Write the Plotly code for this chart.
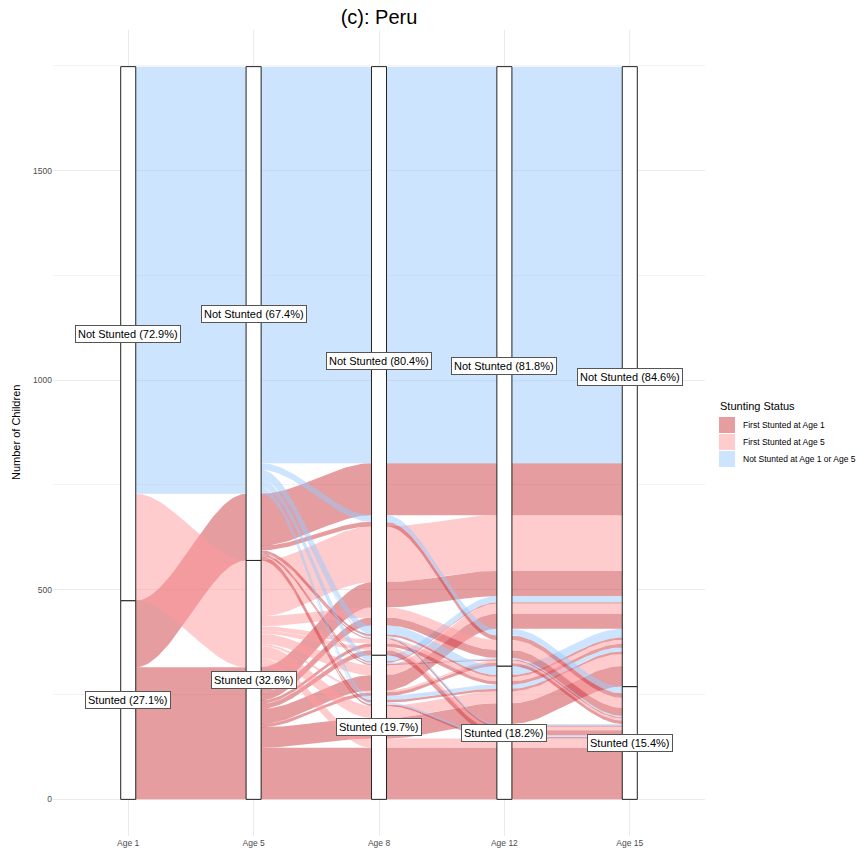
import numpy as np
import plotly.graph_objects as go

# Survey waves (axes) and stunting status at each wave
ages = ["Age 1", "Age 5", "Age 8", "Age 12", "Age 15"]

# Trajectories: status at ages 1, 5, 8, 12, 15 (S = stunted, N = not stunted)
paths_first_age1_stunted5 = ["SSNNN", "SSSNN", "SSNNS", "SSSNS", "SSNSN", "SSSSN", "SSNSS", "SSSSS"]
counts_first_age1_stunted5 = [60, 36, 19, 8, 8, 49, 12, 123]

paths_first_age1_recovered5 = ["SNNNN", "SNSNN", "SNNNS", "SNSNS", "SNNSN", "SNSSN", "SNNSS", "SNSSS"]
counts_first_age1_recovered5 = [124, 3, 11, 3, 5, 6, 3, 4]

paths_first_age5 = ["NSNNN", "NSSNN", "NSNNS", "NSSNS", "NSNSN", "NSSSN", "NSNSS", "NSSSS"]
counts_first_age5 = [133, 24, 24, 5, 10, 29, 8, 22]

paths_not_stunted = ["NNNNN", "NNSNN", "NNNNS", "NNSNS", "NNNSN", "NNSSN", "NNNSS", "NNSSS"]
counts_not_stunted = [946, 15, 16, 3, 21, 10, 4, 4]

# Printed shares of each stratum
stunted_pct = [27.1, 32.6, 19.7, 18.2, 15.4]
not_stunted_pct = [72.9, 67.4, 80.4, 81.8, 84.6]

group_names = ["First Stunted at Age 1", "First Stunted at Age 5", "Not Stunted at Age 1 or Age 5"]
group_colors = ["rgba(205,60,65,0.5)", "rgba(255,153,157,0.5)", "rgba(153,201,251,0.5)"]

FONT = "Liberation Sans, Arial, Helvetica, sans-serif"

paths = (paths_first_age1_stunted5 + paths_first_age1_recovered5
         + paths_first_age5 + paths_not_stunted)
counts = (counts_first_age1_stunted5 + counts_first_age1_recovered5
          + counts_first_age5 + counts_not_stunted)


def group_of(p):
    if p[0] == "S":
        return 0
    if p[1] == "S":
        return 1
    return 2


def zigzag(n, i):
    """Axis priority for ordering lodes at axis i: outward from i,
    heading first toward the nearer end (right on ties)."""
    order = [i]
    left, right = i - 1, i + 1
    right_first = (n - 1 - i) <= i
    while left >= 0 or right < n:
        if right_first:
            if right < n:
                order.append(right); right += 1
            if left >= 0:
                order.append(left); left -= 1
        else:
            if left >= 0:
                order.append(left); left -= 1
            if right < n:
                order.append(right); right += 1
    return order


n_ax = len(ages)
m = len(paths)
ybot = np.zeros((m, n_ax))
ytop = np.zeros((m, n_ax))
for i in range(n_ax):
    order = zigzag(n_ax, i)
    idx = sorted(range(m), key=lambda k: tuple(0 if paths[k][j] == "S" else 1 for j in order))
    cum = 0.0
    for k in idx:
        ybot[k, i] = cum
        cum += counts[k]
        ytop[k, i] = cum

total = float(sum(counts))
stunted_n = [sum(c for p, c in zip(paths, counts) if p[i] == "S") for i in range(n_ax)]

W = 0.12  # stratum width in axis units
xs = np.arange(n_ax, dtype=float)
t = np.linspace(0, 1, 48)
ease = 3 * t ** 2 - 2 * t ** 3


def seg_edge(i, ya, yb):
    """Edge of a ribbon from the centre of axis i to the centre of axis i+1."""
    xa = xs[i] - (W / 2 if i == 0 else 0)
    xb = xs[i + 1] + (W / 2 if i + 1 == n_ax - 1 else 0)
    x0, x1 = xs[i] + W / 2, xs[i + 1] - W / 2
    ex = [xa] + list(x0 + (x1 - x0) * t) + [xb]
    ey = [ya] + list(ya + (yb - ya) * ease) + [yb]
    return ex, ey


fig = go.Figure()
for i in range(n_ax - 1):
    # alluvia of one colour that run side by side over this stretch are drawn as one band
    idx = sorted([k for k in range(m) if counts[k] > 0], key=lambda k: ybot[k, i])
    runs = []
    for k in idx:
        if runs:
            prev = runs[-1][-1]
            if (group_of(paths[prev]) == group_of(paths[k])
                    and abs(ytop[prev, i] - ybot[k, i]) < 1e-9
                    and abs(ytop[prev, i + 1] - ybot[k, i + 1]) < 1e-9):
                runs[-1].append(k)
                continue
        runs.append([k])
    for run in runs:
        ux, uy = seg_edge(i, ytop[run[-1], i], ytop[run[-1], i + 1])
        lx, ly = seg_edge(i, ybot[run[0], i], ybot[run[0], i + 1])
        fig.add_trace(go.Scatter(
            x=ux + lx[::-1], y=uy + ly[::-1],
            mode="lines", fill="toself", line=dict(width=0),
            fillcolor=group_colors[group_of(paths[run[0]])],
            hoverinfo="skip", showlegend=False,
        ))

shapes = []
annotations = []
for i in range(n_ax):
    for y0, y1 in [(0, stunted_n[i]), (stunted_n[i], total)]:
        shapes.append(dict(type="rect", xref="x", yref="y",
                           x0=xs[i] - W / 2, x1=xs[i] + W / 2, y0=y0, y1=y1,
                           fillcolor="white", line=dict(color="#222222", width=1),
                           layer="above"))
    for txt, yc in [(f"Stunted ({stunted_pct[i]:.1f}%)", stunted_n[i] / 2),
                    (f"Not Stunted ({not_stunted_pct[i]:.1f}%)", (stunted_n[i] + total) / 2)]:
        annotations.append(dict(x=xs[i], y=yc, xref="x", yref="y", text=txt,
                                showarrow=False, bgcolor="white",
                                bordercolor="#555555", borderwidth=1, borderpad=2,
                                font=dict(family=FONT, size=11, color="black")))

# Plot-area geometry in pixels
L, R, T, B = 53, 705, 30, 836
WID, HEI = 860, 856


def px(xp):
    return (xp - L) / (R - L)


def py(yp):
    return (B - yp) / (B - T)


# Legend drawn by hand
annotations.append(dict(x=px(718), y=py(406), xref="paper", yref="paper",
                        text="Stunting Status", showarrow=False,
                        xanchor="left", yanchor="middle",
                        font=dict(family=FONT, size=11, color="black")))
for g in range(3):
    top = 417 + 17 * g
    shapes.append(dict(type="rect", xref="paper", yref="paper",
                       x0=px(719), x1=px(735), y0=py(top + 16), y1=py(top),
                       fillcolor=group_colors[g], line=dict(width=0)))
    annotations.append(dict(x=px(741), y=py(top + 8), xref="paper", yref="paper",
                            text=group_names[g], showarrow=False,
                            xanchor="left", yanchor="middle",
                            font=dict(family=FONT, size=8.5, color="black")))

# y-axis title
annotations.append(dict(x=px(16), y=0.5, xref="paper", yref="paper",
                        text="Number of Children", textangle=-90, showarrow=False,
                        xanchor="center", yanchor="middle",
                        font=dict(family=FONT, size=11, color="black")))

pad = 0.05 * total
fig.update_layout(
    width=WID, height=HEI,
    margin=dict(l=L, r=WID - R, t=T, b=HEI - B, autoexpand=False),
    paper_bgcolor="white", plot_bgcolor="white",
    showlegend=False,
    title=dict(text="(c): Peru", x=px(379), xref="paper", xanchor="center",
               y=1 - 17 / HEI, yref="container", yanchor="middle",
               font=dict(family=FONT, size=20, color="black")),
    xaxis=dict(range=[-0.6, n_ax - 0.4], tickvals=list(xs), ticktext=ages,
               showgrid=True, gridcolor="#EBEBEB", gridwidth=1, zeroline=False,
               showline=False, ticks="", automargin=False,
               tickfont=dict(family=FONT, size=8.5, color="#4D4D4D")),
    yaxis=dict(range=[-pad, total + pad], tickvals=[0, 500, 1000, 1500],
               showgrid=True, gridcolor="#EBEBEB", gridwidth=1, zeroline=False,
               showline=False, ticks="", automargin=False,
               minor=dict(tickvals=[250, 750, 1250, 1750], showgrid=True,
                          gridcolor="#F3F3F3", gridwidth=0.6),
               tickfont=dict(family=FONT, size=8.5, color="#4D4D4D")),
    shapes=shapes,
    annotations=annotations,
)

fig.write_html("out.html")
